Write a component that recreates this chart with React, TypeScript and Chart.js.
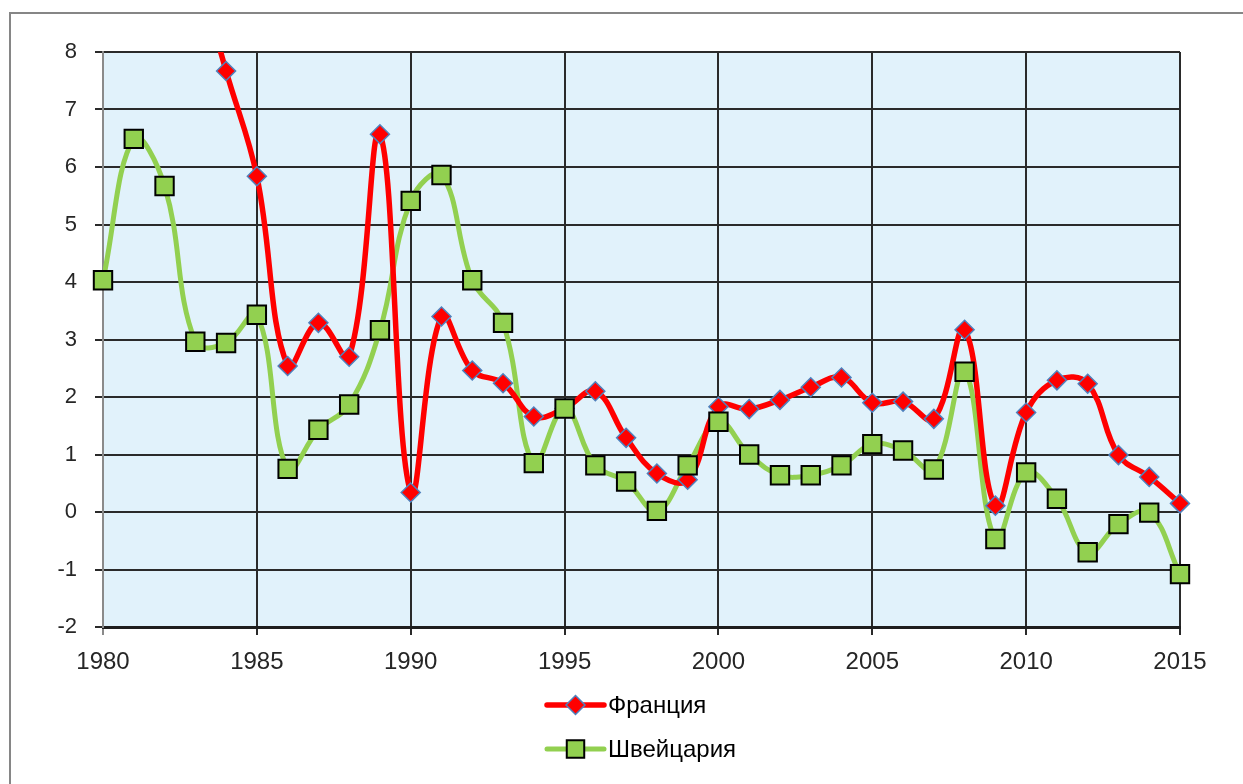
import React, { useEffect, useRef } from 'react';
import { Chart, registerables } from 'chart.js';

Chart.register(...registerables);

// ---- data ----
const years = [
  1980, 1981, 1982, 1983, 1984, 1985, 1986, 1987, 1988, 1989,
  1990, 1991, 1992, 1993, 1994, 1995, 1996, 1997, 1998, 1999,
  2000, 2001, 2002, 2003, 2004, 2005, 2006, 2007, 2008, 2009,
  2010, 2011, 2012, 2013, 2014, 2015,
];
const franceValues = [
  13.6, 13.4, 11.8, 9.6, 7.67, 5.84, 2.54, 3.29, 2.7, 6.57,
  0.34, 3.4, 2.46, 2.24, 1.66, 1.8, 2.1, 1.29, 0.67, 0.56,
  1.83, 1.79, 1.95, 2.17, 2.34, 1.9, 1.92, 1.62, 3.17, 0.11,
  1.73, 2.29, 2.23, 0.99, 0.61, 0.15,
];
const swissValues = [
  4.03, 6.49, 5.67, 2.96, 2.94, 3.43, 0.75, 1.43, 1.87, 3.16,
  5.41, 5.86, 4.03, 3.29, 0.85, 1.8, 0.81, 0.53, 0.02, 0.81,
  1.57, 1.0, 0.64, 0.64, 0.81, 1.18, 1.07, 0.74, 2.44, -0.47,
  0.69, 0.23, -0.7, -0.21, -0.01, -1.08,
];
const seriesNames = ['Франция', 'Швейцария'];
const xTickValues = [1980, 1985, 1990, 1995, 2000, 2005, 2010, 2015];
const yMin = -2;
const yMax = 8;
const yStep = 1;

// ---- styles ----
const FR_LINE = '#FF0000';
const FR_MARK_BORDER = '#4F81BD';
const CH_LINE = '#92D050';
const CH_MARK_BORDER = '#000000';
const PLOT_BG = '#E1F2FB';
const GRID = '#2a2a2a';
const GREY_AXIS = '#8a8a8a';

const toPoints = (vals: number[]) => years.map((y, i) => ({ x: y, y: vals[i] }));

const backgroundPlugin = {
  id: 'bgAndFrame',
  beforeDraw(chart: any) {
    const { ctx, chartArea } = chart;
    ctx.save();
    ctx.fillStyle = '#ffffff';
    ctx.fillRect(0, 0, chart.width, chart.height);
    ctx.fillStyle = PLOT_BG;
    ctx.fillRect(chartArea.left, chartArea.top, chartArea.right - chartArea.left, chartArea.bottom - chartArea.top);
    ctx.strokeStyle = '#868686';
    ctx.lineWidth = 2;
    ctx.beginPath();
    ctx.moveTo(10, chart.height);
    ctx.lineTo(10, 13);
    ctx.lineTo(chart.width, 13);
    ctx.stroke();
    ctx.restore();
  },
};

function drawMarker(ctx: CanvasRenderingContext2D, style: string, x: number, y: number, r: number, fill: string, border: string, bw: number) {
  ctx.beginPath();
  if (style === 'rectRot') {
    ctx.moveTo(x, y - r);
    ctx.lineTo(x + r, y);
    ctx.lineTo(x, y + r);
    ctx.lineTo(x - r, y);
    ctx.closePath();
  } else {
    const s = Math.SQRT1_2 * r;
    ctx.rect(x - s, y - s, 2 * s, 2 * s);
  }
  ctx.fillStyle = fill;
  ctx.fill();
  ctx.lineWidth = bw;
  ctx.strokeStyle = border;
  ctx.stroke();
}

const legendPlugin = {
  id: 'stackedLegend',
  afterDraw(chart: any) {
    const { ctx, chartArea } = chart;
    const ds = chart.data.datasets;
    const lineSets = ds.filter((d: any) => d.kind === 'line');
    const markSets = ds.filter((d: any) => d.kind === 'marker');
    const cx = (chartArea.left + chartArea.right) / 2;
    const x0 = cx - 94.5;
    const x1 = cx - 37.5;
    const tx = cx - 33.5;
    const rows = [chartArea.bottom + 78, chartArea.bottom + 122];
    ctx.save();
    seriesNames.forEach((name, i) => {
      const l = lineSets.find((d: any) => d.series === name);
      const m = markSets.find((d: any) => d.series === name);
      const y = rows[i];
      ctx.beginPath();
      ctx.lineCap = 'round';
      ctx.strokeStyle = l.borderColor;
      ctx.lineWidth = l.borderWidth;
      ctx.moveTo(x0, y);
      ctx.lineTo(x1, y);
      ctx.stroke();
      const r = m.pointStyle === 'rectRot' ? m.pointRadius : m.pointRadius * 0.95;
      drawMarker(ctx, m.pointStyle, (x0 + x1) / 2, y, r, m.pointBackgroundColor, m.pointBorderColor, m.pointBorderWidth);
      ctx.fillStyle = '#000000';
      ctx.font = '24px "Liberation Sans", Arial, sans-serif';
      ctx.textBaseline = 'middle';
      ctx.textAlign = 'left';
      ctx.fillText(name, tx, y + 1);
    });
    ctx.restore();
  },
};

export default function App() {
  const ref = useRef<HTMLCanvasElement | null>(null);

  useEffect(() => {
    document.body.style.margin = '0';
    const canvas = ref.current;
    if (!canvas) return;
    const markerClip = { left: 20, right: 20, top: 0, bottom: 20 };
    const chart = new Chart(canvas, {
      type: 'line',
      data: {
        datasets: [
          {
            kind: 'marker', series: seriesNames[1], label: seriesNames[1],
            data: toPoints(swissValues), showLine: false, order: 1, clip: markerClip,
            pointStyle: 'rect', pointRadius: 13, pointBackgroundColor: CH_LINE,
            pointBorderColor: CH_MARK_BORDER, pointBorderWidth: 2, borderColor: CH_LINE,
          } as any,
          {
            kind: 'marker', series: seriesNames[0], label: seriesNames[0],
            data: toPoints(franceValues), showLine: false, order: 2, clip: markerClip,
            pointStyle: 'rectRot', pointRadius: 9.5, pointBackgroundColor: FR_LINE,
            pointBorderColor: FR_MARK_BORDER, pointBorderWidth: 1.5, borderColor: FR_LINE,
          } as any,
          {
            kind: 'line', series: seriesNames[0], label: seriesNames[0],
            data: toPoints(franceValues), order: 3, pointRadius: 0, clip: 0,
            borderColor: FR_LINE, borderWidth: 5.5, tension: 0.4, capBezierPoints: false,
            borderCapStyle: 'round', borderJoinStyle: 'round',
          } as any,
          {
            kind: 'line', series: seriesNames[1], label: seriesNames[1],
            data: toPoints(swissValues), order: 4, pointRadius: 0, clip: 0,
            borderColor: CH_LINE, borderWidth: 5, tension: 0.4, capBezierPoints: false,
            borderCapStyle: 'round', borderJoinStyle: 'round',
          } as any,
        ],
      },
      options: {
        responsive: false,
        animation: false,
        events: [],
        layout: { padding: { left: 0, top: 52, right: 63, bottom: 97 } },
        plugins: {
          legend: { display: false },
          tooltip: { enabled: false },
        },
        scales: {
          x: {
            type: 'linear',
            min: years[0],
            max: years[years.length - 1],
            afterBuildTicks: (scale: any) => {
              scale.ticks = xTickValues.map((v) => ({ value: v }));
            },
            afterFit: (scale: any) => {
              scale.height = 60;
            },
            ticks: {
              callback: (v: any) => String(v),
              color: '#262626',
              font: { family: '"Liberation Sans", Arial, sans-serif', size: 24 },
              padding: 13,
              maxRotation: 0,
              autoSkip: false,
            },
            grid: {
              color: (c: any) => (c.tick && c.tick.value === years[0] ? GREY_AXIS : GRID),
              lineWidth: 2,
              tickLength: 8,
              tickColor: (c: any) => (c.tick && c.tick.value === years[0] ? GREY_AXIS : GRID),
              tickWidth: 2,
            },
            border: { display: true, color: '#1e1e1e', width: 3 },
          },
          y: {
            type: 'linear',
            min: yMin,
            max: yMax,
            afterFit: (scale: any) => {
              scale.width = 103;
            },
            ticks: {
              stepSize: yStep,
              callback: (v: any) => String(v),
              color: '#262626',
              font: { family: '"Liberation Sans", Arial, sans-serif', size: 22 },
              padding: 18,
            },
            grid: {
              color: GRID,
              lineWidth: 2,
              tickLength: 8,
              tickColor: GRID,
              tickWidth: 2,
            },
            border: { display: true, color: GREY_AXIS, width: 2 },
          },
        },
      } as any,
      plugins: [backgroundPlugin, legendPlugin],
    });
    return () => chart.destroy();
  }, []);

  return (
    <div style={{ width: 1243, height: 784, background: '#fff' }}>
      <canvas ref={ref} width={1243} height={784} style={{ display: 'block' }} />
    </div>
  );
}
